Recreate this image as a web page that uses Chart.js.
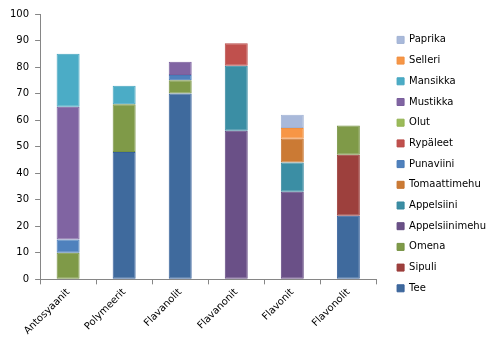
<!DOCTYPE html>
<html>
<head>
<meta charset="utf-8">
<script src="https://cdn.jsdelivr.net/npm/chart.js@4"></script>
<style>
    html, body { margin: 0; padding: 0; background: #fff; }
    #wrap { width: 500px; height: 350px; }
</style>
</head>
<body>
<div id="wrap"><canvas id="flavonoidChart"></canvas></div>
<script>
// Flavonoidiryhmät x-akselilla
const categories = ["Antosyaanit", "Polymeerit", "Flavanolit", "Flavanonit", "Flavonit", "Flavonolit"];

// Lähteet pinon järjestyksessä alhaalta ylös
const tee = [0, 48, 70, 0, 0, 24];
const sipuli = [0, 0, 0, 0, 0, 23];
const omena = [10, 18, 5, 0, 0, 11];
const appelsiinimehu = [0, 0, 0, 56, 33, 0];
const appelsiini = [0, 0, 0, 24.5, 11, 0];
const tomaattimehu = [0, 0, 0, 0, 9, 0];
const punaviini = [5, 0, 2, 0, 0, 0];
const rypaleet = [0, 0, 0, 8.5, 0, 0];
const olut = [0, 0, 0, 0, 0, 0];
const mustikka = [50, 0, 5, 0, 0, 0];
const mansikka = [20, 7, 0, 0, 0, 0];
const selleri = [0, 0, 0, 0, 4, 0];
const paprika = [0, 0, 0, 0, 5, 0];

const yTicks = [0, 10, 20, 30, 40, 50, 60, 70, 80, 90, 100];

function makeSet(label, data, fill, edge) {
    return {
        label: label,
        data: data,
        backgroundColor: fill,
        borderColor: edge,
        borderWidth: 1,
        borderSkipped: false,
        barPercentage: 0.41,
        categoryPercentage: 1,
    };
}

const datasets = [
    makeSet("Tee", tee, "#3f6a9d", "#36609a"),
    makeSet("Sipuli", sipuli, "#9d403d", "#9a3a37"),
    makeSet("Omena", omena, "#7f9a48", "#769242"),
    makeSet("Appelsiinimehu", appelsiinimehu, "#6a5087", "#634a82"),
    makeSet("Appelsiini", appelsiini, "#3b8ea4", "#35879e"),
    makeSet("Tomaattimehu", tomaattimehu, "#cb7a34", "#c6742f"),
    makeSet("Punaviini", punaviini, "#4f81bd", "#4779b6"),
    makeSet("Rypäleet", rypaleet, "#c0504d", "#b94a47"),
    makeSet("Olut", olut, "#9bbb59", "#93b352"),
    makeSet("Mustikka", mustikka, "#8064a2", "#795e9c"),
    makeSet("Mansikka", mansikka, "#4bacc6", "#45a5bf"),
    makeSet("Selleri", selleri, "#f79646", "#f08f40"),
    makeSet("Paprika", paprika, "#a9b9da", "#a1b2d4"),
];

// Lisätilaa kuvaajan ja selitteen väliin
const LEGEND_EXTRA_WIDTH = 14;
const LEGEND_SHIFT = 10;
const legendGap = {
    id: "legendGap",
    beforeInit(chart) {
        const legend = chart.legend;
        const fit = legend.fit.bind(legend);
        legend.fit = function () {
            fit();
            this.width += LEGEND_EXTRA_WIDTH;
        };
    },
    afterLayout(chart) {
        chart.legend.left += LEGEND_SHIFT;
    },
};

const ctx = document.getElementById("flavonoidChart").getContext("2d");

new Chart(ctx, {
    type: "bar",
    data: {
        labels: categories,
        datasets: datasets,
    },
    plugins: [legendGap],
    options: {
        responsive: true,
        maintainAspectRatio: false,
        animation: false,
        layout: {
            padding: { top: 14, left: 4, bottom: 11, right: 0 },
        },
        plugins: {
            tooltip: { enabled: false },
            legend: {
                position: "right",
                align: "start",
                reverse: true,
                title: {
                    display: true,
                    text: "",
                    font: { size: 1 },
                    padding: { top: 9, bottom: 0 },
                },
                labels: {
                    boxWidth: 7,
                    boxHeight: 7,
                    padding: 10.7,
                    color: "#000",
                    font: { family: "DejaVu Sans", size: 10 },
                },
            },
        },
        scales: {
            x: {
                stacked: true,
                border: { color: "#868686", width: 1 },
                grid: {
                    offset: true,
                    drawOnChartArea: false,
                    drawTicks: true,
                    tickLength: 5,
                    color: "#868686",
                },
                ticks: {
                    maxRotation: 45,
                    minRotation: 45,
                    color: "#000",
                    padding: 2,
                    font: { family: "DejaVu Sans", size: 10 },
                },
            },
            y: {
                stacked: true,
                min: 0,
                max: 100,
                afterBuildTicks: (scale) => {
                    scale.ticks = yTicks.map((v) => ({ value: v }));
                },
                border: { color: "#868686", width: 1 },
                grid: {
                    drawOnChartArea: false,
                    drawTicks: true,
                    tickLength: 5,
                    color: "#868686",
                },
                ticks: {
                    color: "#000",
                    padding: 6,
                    font: { family: "DejaVu Sans", size: 10 },
                },
            },
        },
    },
});
</script>
</body>
</html>
